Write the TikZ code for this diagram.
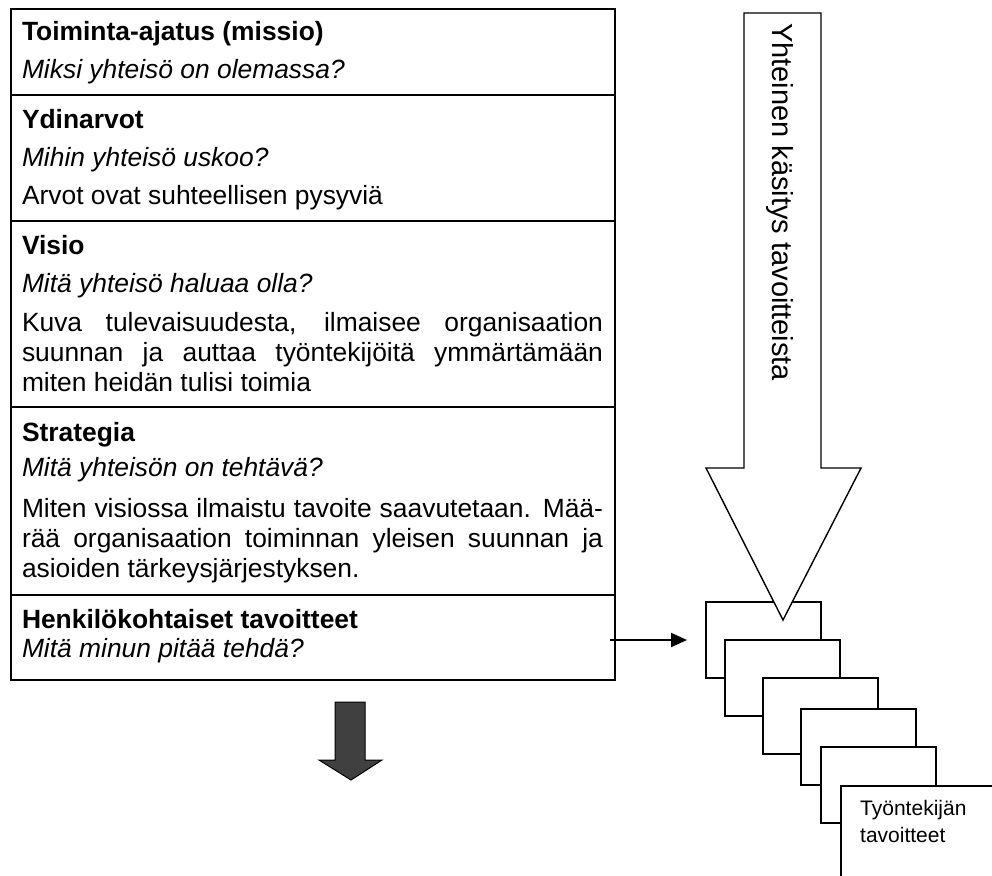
\documentclass[tikz,border=0pt]{standalone}
\usepackage{fontspec}
\setmainfont{Liberation Sans}
\usetikzlibrary{arrows.meta}
\begin{document}
\begin{tikzpicture}[x=1pt,y=-1pt,
  txt/.style={anchor=base west, inner sep=0pt, outer sep=0pt, font=\fontsize{26.4}{30}\selectfont},
  head/.style={txt, font=\fontsize{26.4}{30}\selectfont\bfseries},
  ques/.style={txt, font=\fontsize{26.4}{30}\selectfont\itshape},
  tableline/.style={line width=2.5pt},
  stackbox/.style={draw, fill=white, line width=2.4pt, rectangle, inner sep=0pt, outer sep=0pt, anchor=north west, minimum width=115pt, minimum height=76pt},
  small/.style={anchor=base west, inner sep=0pt, font=\fontsize{21}{24}\selectfont}]
\useasboundingbox (0,0) rectangle (992,875);
\clip (0,0) rectangle (992,875);
\def\W{581pt}
% table
\draw[tableline] (11,9) rectangle (615,680);
\draw[tableline] (11,95) -- (615,95);
\draw[tableline] (11,221) -- (615,221);
\draw[tableline] (11,407) -- (615,407);
\draw[tableline] (11,595) -- (615,595);
\node[head] (t1a) at (22,41) {Toiminta-ajatus (missio)};
\node[ques] (t1b) at (22,78) {Miksi yhteisö on olemassa?};
\node[head] (t2a) at (22,128) {Ydinarvot};
\node[ques] (t2b) at (22,166) {Mihin yhteisö uskoo?};
\node[txt] (t2c) at (22,204) {Arvot ovat suhteellisen pysyviä};
\node[head] (t3a) at (22,254) {Visio};
\node[ques] (t3b) at (22,292) {Mitä yhteisö haluaa olla?};
\node[txt] (t3c) at (22,331) {\makebox[\W][s]{Kuva tulevaisuudesta, ilmaisee organisaation}};
\node[txt] (t3d) at (22,361) {\makebox[\W][s]{suunnan ja auttaa työntekijöitä ymmärtämään}};
\node[txt] (t3e) at (22,391) {miten heidän tulisi toimia};
\node[head] (t4a) at (22,441) {Strategia};
\node[ques] (t4b) at (22,476) {Mitä yhteisön on tehtävä?};
\node[txt] (t4c) at (22,517) {\makebox[\W][s]{Miten visiossa ilmaistu tavoite saavutetaan. Mää-}};
\node[txt] (t4d) at (22,547) {\makebox[\W][s]{rää organisaation toiminnan yleisen suunnan ja}};
\node[txt] (t4e) at (22,577) {asioiden tärkeysjärjestyksen.};
\node[head] (t5a) at (22,628) {Henkilökohtaiset tavoitteet};
\node[ques] (t5b) at (22,657) {Mitä minun pitää tehdä?};
% stacked boxes
\node[stackbox] (b1) at (706,602) {};
\node[stackbox] (b2) at (725,640) {};
\node[stackbox] (b3) at (763,678) {};
\node[stackbox] (b4) at (801,709) {};
\node[stackbox] (b5) at (821,747) {};
\node[stackbox, minimum width=200pt, minimum height=150pt] (b6) at (841,786) {};
\node[small] (b6a) at (860,815) {Työntekijän};
\node[small] (b6b) at (860,842) {tavoitteet};
% big arrow
\filldraw[fill=white, draw=black, line width=1.4pt, line join=miter]
  (744,13) -- (821,13) -- (821,468) -- (861,468) -- (783,620) -- (706,468) -- (744,468) -- cycle;
\node[rotate=-90, anchor=base west, inner sep=0pt, font=\fontsize{29}{32}\selectfont] (bigtxt) at (772,23) {Yhteinen käsitys tavoitteista};
% horizontal arrow
\coordinate (hs) at (610,640);
\draw[line width=2.2pt, -{Triangle[length=16pt,width=14pt]}] (hs) -- ([xshift=-19pt]b1.west);
% dark arrow
\filldraw[fill=black!75, draw=black, line width=1pt]
  (335,702) -- (365,702) -- (365,760) -- (382,760) -- (351,780) -- (319,760) -- (335,760) -- cycle;
\end{tikzpicture}
\end{document}
